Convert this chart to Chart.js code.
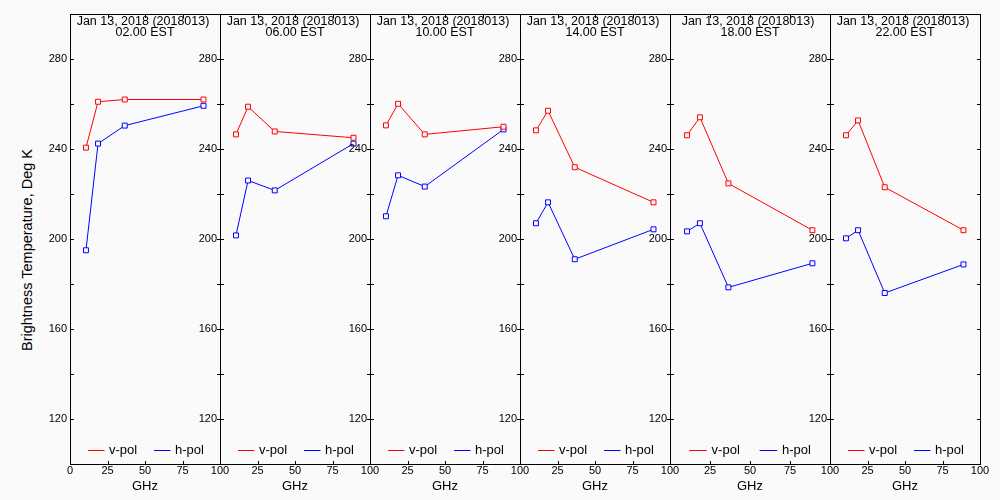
<!DOCTYPE html>
<html>
<head>
<meta charset="utf-8">
<script src="https://cdn.jsdelivr.net/npm/chart.js@4"></script>
<style>
  html, body { margin: 0; padding: 0; background: #fafafa; }
  #wrap { position: relative; width: 1000px; height: 500px; overflow: hidden; }
  #wrap canvas { position: absolute; top: 0; }
  #ytitle {
    position: absolute; left: 27px; top: 250px;
    transform: translate(-50%, -50%) rotate(-90deg);
    font: 14.5px "Liberation Sans", Arial, sans-serif; color: #000; white-space: nowrap;
  }
</style>
</head>
<body>
<div id="wrap">
  <div id="ytitle">Brightness Temperature, Deg K</div>
</div>
<script>
const dateLabel = "Jan 13, 2018 (2018013)";
const hours = ["02.00 EST", "06.00 EST", "10.00 EST", "14.00 EST", "18.00 EST", "22.00 EST"];
const freqs = [10.65, 18.7, 36.5, 89.0];
const seriesNames = ["v-pol", "h-pol"];

const vPol = [
  [240.6, 261.0, 262.0, 262.0],
  [246.5, 258.8, 247.8, 245.0],
  [250.5, 260.1, 246.5, 249.9],
  [248.3, 257.0, 231.9, 216.3],
  [246.1, 254.1, 224.7, 203.9],
  [246.1, 252.7, 223.0, 203.9]
];
const hPol = [
  [195.0, 242.4, 250.4, 259.2],
  [201.6, 226.0, 221.6, 242.4],
  [210.1, 228.3, 223.3, 248.7],
  [207.0, 216.3, 191.0, 204.3],
  [203.4, 207.0, 178.5, 189.2],
  [200.3, 203.9, 176.0, 188.7]
];

// panel box edges in page pixels
const panelLeft = [70, 220, 370, 520, 670, 830];
const panelRight = [220, 370, 520, 670, 830, 980];
const colors = ["#ff0000", "#0000ff"];
const bg = "#fafafa";
const FONT = '"Liberation Sans", Arial, sans-serif';

const panelDecor = {
  id: "panelDecor",
  afterDraw(chart, args, opts) {
    const { ctx, chartArea: a, scales } = chart;
    const w = a.right - a.left;
    ctx.save();
    ctx.strokeStyle = "#000";
    ctx.lineWidth = 1;
    ctx.strokeRect(a.left + 0.5, a.top + 0.5, w, a.bottom - a.top);

    // inward tick marks on all four sides
    ctx.beginPath();
    scales.y.ticks.forEach(t => {
      const py = Math.round(scales.y.getPixelForValue(t.value)) + 0.5;
      ctx.moveTo(a.left, py); ctx.lineTo(a.left + 4, py);
      ctx.moveTo(a.right + 1, py); ctx.lineTo(a.right - 3, py);
    });
    scales.x.ticks.forEach(t => {
      const px = Math.round(scales.x.getPixelForValue(t.value)) + 0.5;
      ctx.moveTo(px, a.bottom + 1); ctx.lineTo(px, a.bottom - 3);
      ctx.moveTo(px, a.top); ctx.lineTo(px, a.top + 4);
    });
    ctx.stroke();

    // panel title
    ctx.fillStyle = "#000";
    ctx.font = "12.5px " + FONT;
    ctx.textAlign = "center";
    ctx.textBaseline = "middle";
    const cx = a.left + w / 2;
    ctx.fillText(dateLabel, cx - 2, a.top + 8);
    ctx.fillText(opts.hour, cx, a.top + 19);

    // legend inside the bottom of the panel
    ctx.font = "13px " + FONT;
    const ly = a.bottom - 14;
    const starts = [0.12, 0.56];
    chart.data.datasets.forEach((ds, i) => {
      const x0 = a.left + w * starts[i];
      ctx.strokeStyle = ds.borderColor;
      ctx.beginPath();
      ctx.moveTo(x0, ly + 0.5);
      ctx.lineTo(x0 + w * 0.11, ly + 0.5);
      ctx.stroke();
      ctx.textAlign = "left";
      ctx.fillText(ds.label, x0 + w * 0.14, ly);
    });
    ctx.restore();
  }
};

const wrap = document.getElementById("wrap");
const padRight = 14;

hours.forEach((hour, p) => {
  const w = panelRight[p] - panelLeft[p];
  const canvas = document.createElement("canvas");
  canvas.width = w + 50 + padRight;
  canvas.height = 500;
  canvas.style.left = (panelLeft[p] - 50) + "px";
  wrap.appendChild(canvas);

  const series = [vPol[p], hPol[p]];
  new Chart(canvas, {
    type: "line",
    data: {
      datasets: series.map((vals, i) => ({
        label: seriesNames[i],
        data: freqs.map((f, k) => ({ x: f, y: vals[k] })),
        borderColor: colors[i],
        borderWidth: 1,
        pointStyle: "rect",
        pointRadius: 3.5,
        pointBorderWidth: 1,
        pointBorderColor: colors[i],
        pointBackgroundColor: bg,
        tension: 0
      }))
    },
    options: {
      responsive: false,
      animation: false,
      devicePixelRatio: 1,
      layout: { padding: { left: 0, right: padRight, top: 14, bottom: 0 } },
      plugins: {
        legend: { display: false },
        tooltip: { enabled: false },
        panelDecor: { hour: hour }
      },
      scales: {
        x: {
          type: "linear",
          min: 0, max: 100,
          grid: { display: false, drawTicks: false },
          border: { display: false },
          ticks: {
            stepSize: 25, padding: 0, autoSkip: false, maxRotation: 0,
            color: "#000", font: { family: FONT, size: 11 },
            callback: v => (v === 0 && p > 0) ? "" : v
          },
          title: {
            display: true, text: "GHz", color: "#000",
            font: { family: FONT, size: 13 },
            padding: { top: 0, bottom: 6 }
          },
          afterFit: s => { s.height = 36; }
        },
        y: {
          min: 100, max: 300,
          grid: { display: false, drawTicks: false },
          border: { display: false },
          ticks: {
            stepSize: 20, padding: 3, autoSkip: false,
            color: "#000", font: { family: FONT, size: 11 },
            callback: v => v % 40 === 0 ? v : ""
          },
          afterFit: s => { s.width = 50; }
        }
      }
    },
    plugins: [panelDecor]
  });
});
</script>
</body>
</html>
